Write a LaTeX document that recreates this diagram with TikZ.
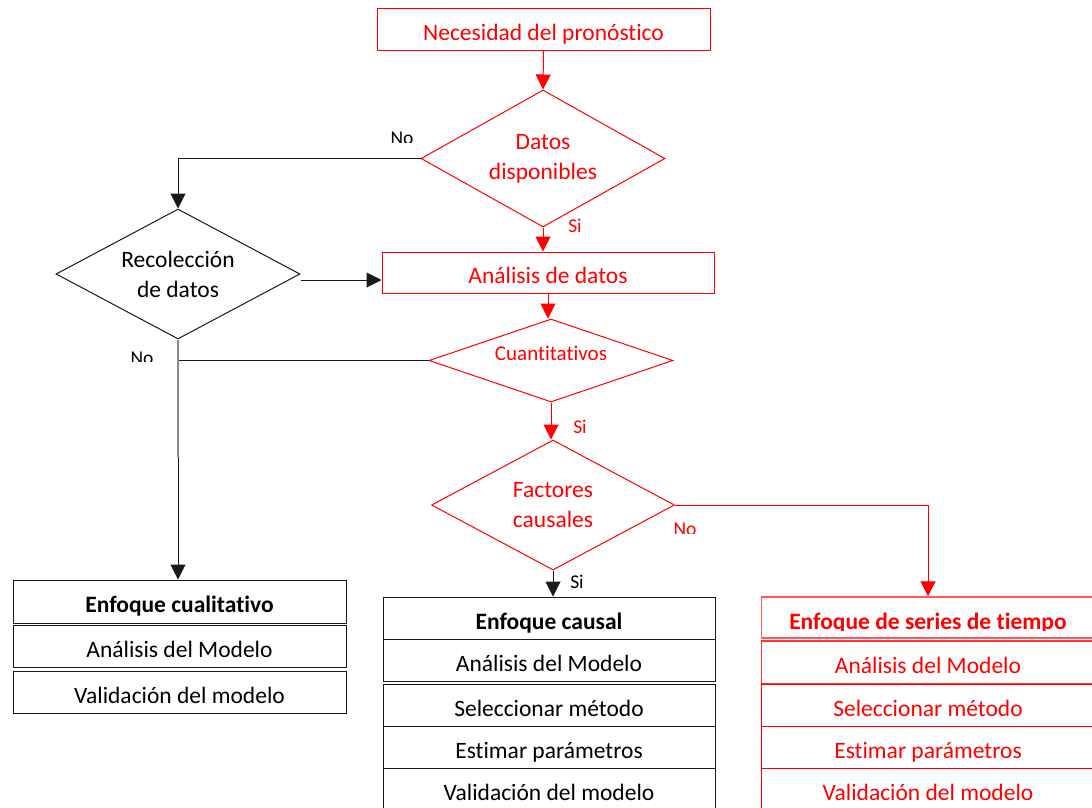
\documentclass[tikz,border=0pt]{standalone}
\usepackage{fontspec}
\setmainfont{Carlito}[Ligatures=NoCommon]
\usetikzlibrary{shapes.geometric,arrows.meta}
\definecolor{flowred}{RGB}{255,0,0}
\definecolor{ink}{RGB}{25,25,25}
\newcommand\flowmain{\fontsize{23.5}{30}\selectfont}
\newcommand\flowsmall{\fontsize{21}{26}\selectfont}
\newcommand\flowlabel{\fontsize{19.5}{24}\selectfont}
\tikzset{
  redbox/.style={draw=flowred, line width=1pt, text=flowred, inner sep=0pt, font=\flowmain, text height=24pt, text depth=2pt},
  reddiam/.style={diamond, draw=flowred, line width=1pt, text=flowred, inner sep=0pt, align=center, font=\flowmain},
  blkdiam/.style={diamond, draw=ink, line width=1pt, text=black, inner sep=0pt, align=center, font=\flowmain},
  cellbox/.style={rectangle, line width=1pt, inner sep=0pt, font=\flowmain, minimum width=333pt, text height=24pt, text depth=2pt},
  blkcell/.style={cellbox, draw=ink, text=black},
  redcell/.style={cellbox, draw=flowred, text=flowred},
  redline/.style={draw=flowred, line width=1pt},
  blkline/.style={draw=ink, line width=1pt},
  redarrow/.style={redline, -{Triangle[length=15pt,width=15pt]}},
  blkarrow/.style={blkline, -{Triangle[length=15pt,width=15pt]}},
  lbl/.style={inner sep=0pt, font=\flowlabel},
}
\begin{document}
\begin{tikzpicture}[x=1pt, y=-1pt]
\useasboundingbox (0,0) rectangle (1092,807);
\clip (0,0) rectangle (1092,807);

% upper part of the flow
\node[redbox, minimum width=333pt, minimum height=42pt] (need) at (543.5,29) {Necesidad del pronóstico};
\node[reddiam, aspect=1.78, minimum width=244pt, minimum height=137pt] (datos) at (543,158.5) {Datos\\disponibles};
\node[blkdiam, aspect=1.88, minimum width=244pt, minimum height=130pt] (recol) at (178,274) {Recolección\\de datos};
\node[redbox, minimum width=332pt, minimum height=41pt] (analisis) at (548,272.5) {Análisis de datos};
\node[reddiam, aspect=2.94, font=\flowsmall, minimum width=244pt, minimum height=83pt] (cuant) at (551,360.5) {\raisebox{14pt}{Cuantitativos}};
\node[reddiam, aspect=1.87, minimum width=243pt, minimum height=130pt] (fact) at (553,505) {Factores\\causales};

% qualitative approach
\node[blkcell, minimum height=43pt, font=\flowmain\bfseries] (cualit) at (179.5,601.5) {Enfoque cualitativo};
\node[blkcell, minimum height=42pt] (cualit2) at (179.5,646) {Análisis del Modelo};
\node[blkcell, minimum height=42pt] (cualit3) at (179.5,692) {Validación del modelo};

% causal approach
\node[blkcell, minimum width=332pt, minimum height=42pt, font=\flowmain\bfseries] (causal) at (549,618) {Enfoque causal};
\node[blkcell, minimum width=332pt, minimum height=42pt] (causal2) at (549,660) {Análisis del Modelo};
\node[blkcell, minimum width=332pt, minimum height=42pt] (causal3) at (549,705) {Seleccionar método};
\node[blkcell, minimum width=332pt, minimum height=42pt] (causal4) at (549,747) {Estimar parámetros};
\node[blkcell, minimum width=332pt, minimum height=42pt] (causal5) at (549,789) {Validación del modelo};

% time series approach
\node[redcell, draw=flowred!65, line width=1.5pt, minimum height=41pt] (series) at (928,617.5) {};
\begin{scope}
  \clip (761,597) rectangle (1095,630);
  \node[inner sep=0pt, text=flowred, font=\flowmain\bfseries] at (928,623) {Enfoque de series de tiempo};
\end{scope}
\node[redcell, draw=flowred!80, line width=1.3pt, minimum height=43pt] (series2) at (928,662.5) {Análisis del Modelo};
\node[redcell, minimum height=42pt] (series3) at (928,705) {Seleccionar método};
\node[redcell, minimum height=42pt] (series4) at (928,747) {Estimar parámetros};
\node[redcell, minimum height=42pt] (series5) at (928,789) {Validación del modelo};

% connectors
\draw[redarrow] (need.south) -- (datos.north);
\draw[redarrow] (datos.south) -- (datos.south |- analisis.north);
\draw[blkarrow] (datos.west) -| (recol.north);
\draw[blkarrow] ([yshift=-6pt]recol.east) -- ([yshift=-6pt]recol.east -| analisis.west);
\draw[redarrow] (analisis.south) -- (analisis.south |- cuant.north);
\draw[redarrow] (cuant.south) -- (cuant.south |- fact.north);
\draw[blkline] (cuant.west) -- (cuant.west -| recol.south);
\coordinate (bend) at (178,457);
\draw[draw=black!45, line width=1.6pt] (recol.south) -- (bend);
\draw[blkarrow] (bend) -- (bend |- cualit.north);
\draw[blkarrow] (fact.south) -- (fact.south |- causal.north);
\draw[redarrow] (fact.east) -| (series.north);

% branch labels
\begin{scope}
  \clip (380,120) rectangle (430,142);
  \node[lbl, text=black] (no1) at (402,138.5) {No};
\end{scope}
\begin{scope}
  \clip (120,340) rectangle (165,361.5);
  \node[lbl, text=black] (no2) at (142,358.5) {No};
\end{scope}
\begin{scope}
  \clip (660,510) rectangle (710,533);
  \node[lbl, text=flowred] (no3) at (685,529.5) {No};
\end{scope}
\node[lbl, text=flowred] (si1) at (575,226) {Si};
\node[lbl, text=flowred] (si2) at (580,427) {Si};
\node[lbl, text=black] (si3) at (577,582) {Si};
\end{tikzpicture}
\end{document}
